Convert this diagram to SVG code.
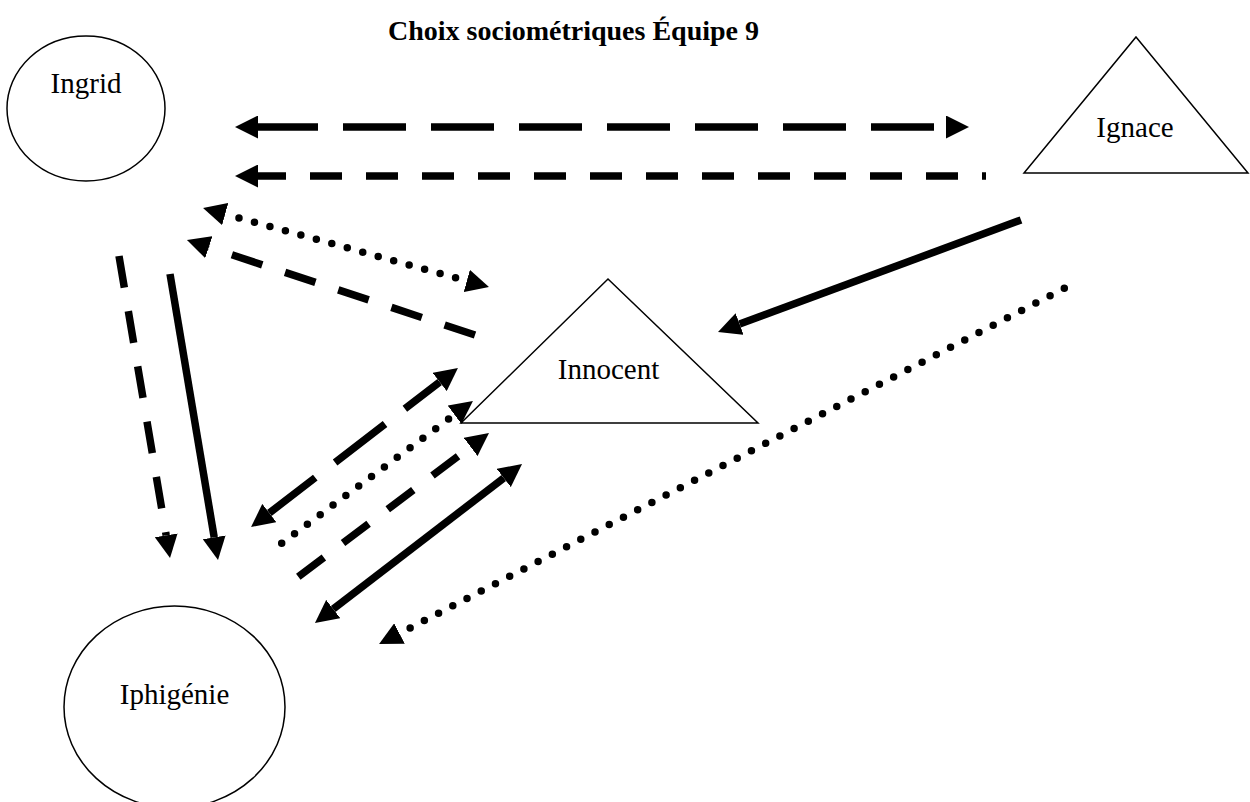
<svg xmlns="http://www.w3.org/2000/svg" width="1250" height="802" viewBox="0 0 1250 802">
<style>
.node{fill:#fff;stroke:#000;stroke-width:1.5}
.lbl{font-family:"Liberation Serif","Times New Roman",serif;font-size:29px;fill:#000;text-anchor:middle}
.title{font-family:"Liberation Serif","Times New Roman",serif;font-size:28px;font-weight:bold;fill:#000;text-anchor:middle}
.c{fill:none;stroke:#000;stroke-width:7.5}
.solid{stroke-linecap:butt}
.dashL{stroke-dasharray:63 25}
.dashS{stroke-dasharray:32 24}
.dot{stroke-linecap:round}
</style>
<defs>
<marker id="ah" viewBox="0 0 23 23" refX="0" refY="11.5" markerWidth="23" markerHeight="23" markerUnits="userSpaceOnUse" orient="auto-start-reverse">
<path d="M0,0 L23,11.5 L0,23 z" fill="#000"/>
</marker>
</defs>
<rect width="1250" height="802" fill="#fff"/>
<text class="title" x="573.5" y="40">Choix sociométriques Équipe 9</text>
<g id="connectors">
<path class="c dashL" d="M946,127 L258,127" stroke-dashoffset="76" marker-start="url(#ah)" marker-end="url(#ah)"/>
<path class="c dashS" d="M986,176 L258,176" stroke-dashoffset="28" marker-end="url(#ah)"/>
<path class="c dot" d="M225.2,214.1 L466.8,280.9" stroke-dasharray="0 16.05" stroke-dashoffset="1.75" marker-start="url(#ah)" marker-end="url(#ah)"/>
<path class="c dashS" d="M475,335 L208.8,247.2" marker-end="url(#ah)"/>
<path class="c dashS" d="M119,256 L166.2,535.3" marker-end="url(#ah)"/>
<path class="c solid" d="M170,274 L214.2,537.3" marker-end="url(#ah)"/>
<path class="c dashL" d="M269.3,513 L439.7,382" stroke-dashoffset="5" marker-start="url(#ah)" marker-end="url(#ah)"/>
<path class="c dot" d="M281.7,543.3 L454.5,414.7" stroke-dasharray="0 16" marker-end="url(#ah)"/>
<path class="c dashS" d="M298.3,576.7 L470.6,446.9" marker-end="url(#ah)"/>
<path class="c solid" d="M333.2,609 L503.8,478" marker-start="url(#ah)" marker-end="url(#ah)"/>
<path class="c dot" d="M1064.3,288.3 L399.5,633.5" stroke-dasharray="0 16.024" marker-end="url(#ah)"/>
<path class="c solid" d="M1021,220 L739.6,324" marker-end="url(#ah)"/>
</g>
<g id="ingrid">
<ellipse class="node" cx="86" cy="108.5" rx="79" ry="72.5"/>
<text class="lbl" x="86" y="93">Ingrid</text>
</g>
<g id="iphigenie">
<ellipse class="node" cx="174.5" cy="707" rx="110.5" ry="101"/>
<text class="lbl" x="174.5" y="704">Iphigénie</text>
</g>
<g id="innocent">
<polygon class="node" points="608,279 758,423 461,423" fill="none" style="fill:none"/>
<text class="lbl" x="608.5" y="379">Innocent</text>
</g>
<g id="ignace">
<polygon class="node" points="1136,37 1248,173 1024,173"/>
<text class="lbl" x="1135" y="137">Ignace</text>
</g>
</svg>
